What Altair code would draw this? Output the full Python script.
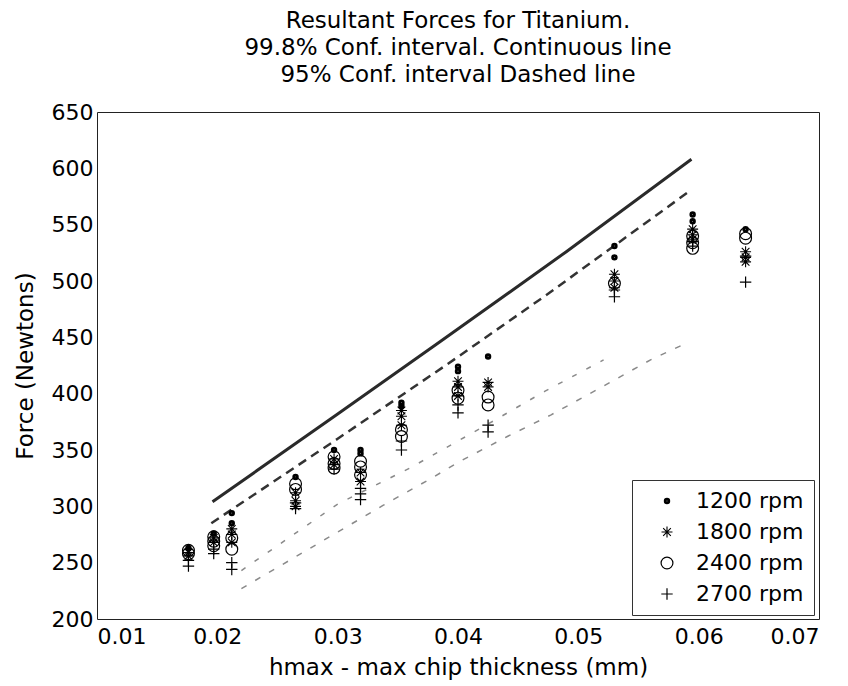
import altair as alt
import pandas as pd

FONT = "DejaVu Sans"

# ---- data ----
TITLE_LINES = [
    "Resultant Forces for Titanium.",
    "99.8% Conf. interval. Continuous line",
    "95% Conf. interval Dashed line",
]
RPM_LABELS = ["1200 rpm", "1800 rpm", "2400 rpm", "2700 rpm"]

H_1200 = [0.0176, 0.0197, 0.0212, 0.0212, 0.0265, 0.0297, 0.0319, 0.0319, 0.0353, 0.0353,
          0.0400, 0.0400, 0.0425, 0.0530, 0.0530, 0.0595, 0.0595, 0.0639]
F_1200 = [263, 276, 294, 285, 326, 350, 350, 347, 392, 389,
          424, 420, 433, 531, 521, 559, 553, 546]

H_1800 = [0.0176, 0.0176, 0.0197, 0.0197, 0.0212, 0.0212, 0.0212, 0.0265, 0.0265, 0.0265,
          0.0297, 0.0297, 0.0319, 0.0319, 0.0353, 0.0353, 0.0353, 0.0400, 0.0400, 0.0400,
          0.0425, 0.0425, 0.0530, 0.0530, 0.0530, 0.0595, 0.0595, 0.0595, 0.0639, 0.0639, 0.0639]
F_1800 = [259, 256, 272, 268, 280, 275, 268, 312, 305, 300,
          342, 337, 330, 322, 385, 380, 372, 411, 406, 398,
          410, 406, 506, 500, 494, 546, 541, 537, 526, 521, 517]

H_2400 = [0.0176, 0.0176, 0.0197, 0.0197, 0.0197, 0.0212, 0.0212, 0.0265, 0.0265,
          0.0297, 0.0297, 0.0297, 0.0319, 0.0319, 0.0319, 0.0353, 0.0353, 0.0400, 0.0400,
          0.0425, 0.0425, 0.0530, 0.0595, 0.0595, 0.0595, 0.0639, 0.0639]
F_2400 = [261, 258, 273, 269, 265, 272, 262, 320, 315,
          344, 338, 334, 340, 335, 328, 368, 362, 403, 396,
          397, 390, 498, 540, 534, 529, 542, 538]

H_2700 = [0.0176, 0.0176, 0.0197, 0.0197, 0.0212, 0.0212, 0.0265, 0.0265, 0.0297,
          0.0319, 0.0319, 0.0319, 0.0353, 0.0353, 0.0400, 0.0400, 0.0425, 0.0425,
          0.0530, 0.0530, 0.0595, 0.0595, 0.0639, 0.0639]
F_2700 = [252, 247, 262, 258, 250, 244, 303, 298, 333,
          316, 311, 306, 358, 350, 390, 383, 372, 366,
          492, 486, 535, 531, 522, 499]

# confidence interval lines
UP998_H = [0.0196, 0.0300, 0.0385, 0.0490, 0.0594]
UP998_F = [304, 382, 446, 526, 608]
UP95_H = [0.0195, 0.0300, 0.0391, 0.0474, 0.0594]
UP95_F = [285, 360, 426, 488, 581]
LO95_H = [0.0220, 0.0300, 0.0360, 0.0420, 0.0472, 0.0521]
LO95_F = [243, 302, 334, 370, 402, 430]
LO998_H = [0.0220, 0.0338, 0.0378, 0.0400, 0.0441, 0.0477, 0.0518, 0.0560, 0.0592]
LO998_F = [227, 301, 325, 339, 362, 381, 405, 430, 446]

X_TICKS = [0.01, 0.02, 0.03, 0.04, 0.05, 0.06, 0.07]
Y_TICKS = [200, 250, 300, 350, 400, 450, 500, 550, 600, 650]

# ---- build tables ----
pts = pd.concat([
    pd.DataFrame({"h": H_1200, "F": F_1200, "rpm": RPM_LABELS[0]}),
    pd.DataFrame({"h": H_1800, "F": F_1800, "rpm": RPM_LABELS[1]}),
    pd.DataFrame({"h": H_2400, "F": F_2400, "rpm": RPM_LABELS[2]}),
    pd.DataFrame({"h": H_2700, "F": F_2700, "rpm": RPM_LABELS[3]}),
], ignore_index=True)

xscale = alt.Scale(domain=[0.01, 0.07], nice=False, zero=False)
yscale = alt.Scale(domain=[200, 650], nice=False, zero=False)
xax = alt.Axis(values=X_TICKS, format=".2f", title="hmax - max chip thickness (mm)")
yax = alt.Axis(values=Y_TICKS, title="Force (Newtons)")


def line_layer(hs, fs, color, width, dash=None):
    df = pd.DataFrame({"h": hs, "F": fs})
    kw = dict(color=color, strokeWidth=width, clip=True)
    if dash:
        kw["strokeDash"] = dash
    return alt.Chart(df).mark_line(**kw).encode(
        x=alt.X("h:Q", scale=xscale, axis=xax),
        y=alt.Y("F:Q", scale=yscale, axis=yax),
    )


lines = [
    line_layer(UP998_H, UP998_F, "#2a2a2a", 3),
    line_layer(UP95_H, UP95_F, "#333333", 2.5, [9, 6]),
    line_layer(LO95_H, LO95_F, "#8a8a8a", 1.5, [5, 11]),
    line_layer(LO998_H, LO998_F, "#8a8a8a", 1.5, [6, 10]),
]

ASTER = "M-1,0L1,0M0,-1L0,1M-0.7,-0.7L0.7,0.7M-0.7,0.7L0.7,-0.7"
PLUS = "M-1,0L1,0M0,-1L0,1"

leg = alt.Legend(title=None)
points = alt.Chart(pts).mark_point(filled=False, color="black", opacity=1).encode(
    x=alt.X("h:Q", scale=xscale, axis=xax),
    y=alt.Y("F:Q", scale=yscale, axis=yax),
    shape=alt.Shape("rpm:N", scale=alt.Scale(domain=RPM_LABELS,
                                             range=["circle", ASTER, "circle", PLUS]), legend=leg),
    size=alt.Size("rpm:N", scale=alt.Scale(type="ordinal", domain=RPM_LABELS,
                                           range=[8, 120, 140, 130]), legend=leg),
    strokeWidth=alt.StrokeWidth("rpm:N", scale=alt.Scale(type="ordinal", domain=RPM_LABELS,
                                                         range=[3.6, 1.1, 1.2, 1.2]), legend=leg),
)

chart = alt.layer(*lines, points).properties(
    width=722,
    height=507,
    background="white",
    title=alt.TitleParams(text=TITLE_LINES, fontSize=23, font=FONT, fontWeight="normal",
                          color="black", lineHeight=27, anchor="middle", offset=14),
    autosize=alt.AutoSizeParams(type="none"),
    padding={"left": 97, "top": 112, "right": 29, "bottom": 67},
).configure_view(
    stroke="#222222", strokeWidth=1
).configure_axis(
    grid=False, domain=False, ticks=False,
    labelFont=FONT, labelFontSize=22, labelColor="black",
    titleFont=FONT, titleFontSize=23, titleFontWeight="normal", titleColor="black",
).configure_axisX(
    labelPadding=7, titlePadding=9,
).configure_axisY(
    labelPadding=4, titlePadding=14,
).configure_legend(
    orient="none", legendX=535, legendY=368, padding=10,
    strokeColor="#333333", fillColor="white",
    labelFont=FONT, labelFontSize=22, labelColor="black",
    symbolOffset=14, labelOffset=18, rowPadding=9,
    symbolStrokeColor="black",
)

chart.save("out.html", embed_options={"renderer": "svg", "actions": False})
